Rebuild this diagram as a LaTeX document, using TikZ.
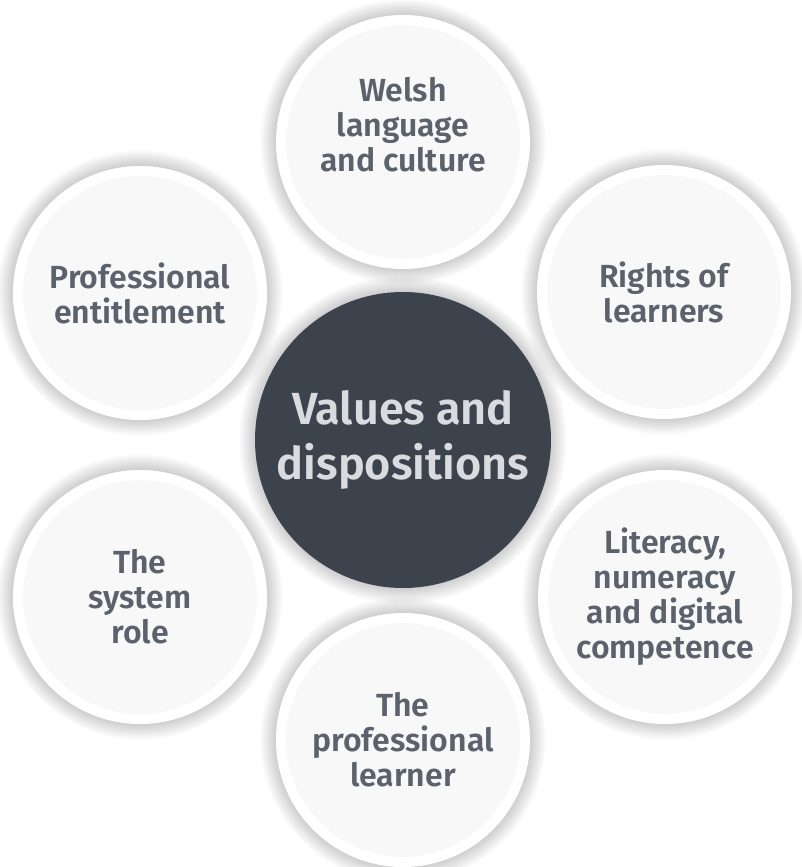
\documentclass[tikz,border=0pt]{standalone}
\usepackage{fontspec}
\setmainfont{Fira Sans}[BoldFont={Fira Sans SemiBold}]

\definecolor{hubfill}{HTML}{3C434D}
\definecolor{hubtext}{HTML}{D9DBDE}
\definecolor{topicfill}{HTML}{F8F8F8}
\definecolor{topictext}{HTML}{5B626B}

\begin{document}
\begin{tikzpicture}[x=1pt,y=-1pt,
                    topic/.style={circle, fill=topicfill, draw=white, line width=10pt,
                                  minimum size=244pt, inner sep=0pt, align=center,
                                  text=topictext, font=\fontsize{32}{35}\selectfont\bfseries},
                    topic text/.style={align=center, text=topictext,
                                  font=\fontsize{32}{35}\selectfont\bfseries},
                    hub/.style={circle, fill=hubfill, minimum size=296pt, inner sep=0pt,
                                align=center, text=hubtext,
                                font=\fontsize{45}{55}\selectfont\bfseries}]

        \useasboundingbox (0,0) rectangle (801,867);

        % soft shadows behind every circle
        \foreach \cx/\cy/\r in {403/440/148, 403/142/127, 664/292/127, 665/597/127,
                                403/740/127, 140/597/127, 140/293/127}{
          \foreach \k in {0,...,16}{
            \fill[black, opacity=0.011] (\cx,\cy) circle[radius=\r pt+\k pt];
          }
        }

        \node[hub] (values) at (403,440) {Values and\\dispositions};

        \node[topic, label={[topic text, yshift=17pt]center:{Welsh\\language\\and culture}}]
          (welsh) at (403,142) {};
        \node[topic] (rights) at (664,292) {Rights of\\learners};
        \node[topic] (literacy) at (665,597) {Literacy,\\numeracy\\and digital\\competence};
        \node[topic] (learner) at (403,740) {The\\professional\\learner};
        \node[topic] (system) at (140,597) {The\\system\\role};
        \node[topic] (entitlement) at (140,293) {Professional\\entitlement};
    \end{tikzpicture}
\end{document}
